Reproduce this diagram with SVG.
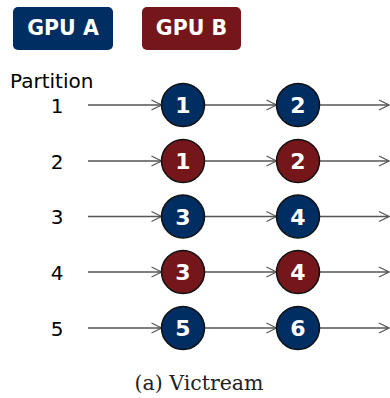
<svg xmlns="http://www.w3.org/2000/svg" width="390" height="398" viewBox="0 0 390 398">
  <defs>
    <marker id="chev" markerWidth="12" markerHeight="12" refX="10" refY="5" orient="auto" markerUnits="userSpaceOnUse" overflow="visible">
      <path d="M0,0 L10,5 L0,10" fill="none" stroke="#555" stroke-width="1.2"/>
    </marker>
  </defs>
  <style>
    .legend { font-family: "DejaVu Sans", Verdana, sans-serif; font-weight: bold; font-size: 20.5px; fill: #fff; text-anchor: middle; }
    .label { font-family: "DejaVu Sans", Verdana, sans-serif; font-size: 20px; fill: #000; }
    .row { text-anchor: middle; }
    .a { fill: #002d62; stroke: #111; stroke-width: 1.5; }
    .b { fill: #74161a; stroke: #111; stroke-width: 1.5; }
    .num { font-family: "DejaVu Sans", Verdana, sans-serif; font-weight: bold; font-size: 22px; fill: #fff; text-anchor: middle; }
    .edge { stroke: #555; stroke-width: 1.3; fill: none; marker-end: url(#chev); }
    .caption { font-family: "DejaVu Serif", "Liberation Serif", serif; font-size: 20.5px; fill: #222; text-anchor: middle; }
  </style>

  <!-- legend -->
  <g id="legend-gpu-a">
    <rect x="13" y="7" width="100" height="43" rx="5" fill="#002d62"/>
    <text class="legend" x="63" y="35">GPU A</text>
  </g>
  <g id="legend-gpu-b">
    <rect x="142" y="7" width="99" height="43" rx="5" fill="#74161a"/>
    <text class="legend" x="191.5" y="35">GPU B</text>
  </g>

  <text class="label" x="10" y="88">Partition</text>
  <g class="label row">
    <text x="57" y="113">1</text>
    <text x="57" y="168.5">2</text>
    <text x="57" y="224">3</text>
    <text x="57" y="280">4</text>
    <text x="57" y="335.5">5</text>
  </g>

  <!-- connectors -->
  <g id="connectors">
    <line class="edge" x1="88" y1="105" x2="161.5" y2="105"/>
    <line class="edge" x1="204.5" y1="105" x2="276.5" y2="105"/>
    <line class="edge" x1="319.5" y1="105" x2="389" y2="105"/>
    <line class="edge" x1="88" y1="161" x2="161.5" y2="161"/>
    <line class="edge" x1="204.5" y1="161" x2="276.5" y2="161"/>
    <line class="edge" x1="319.5" y1="161" x2="389" y2="161"/>
    <line class="edge" x1="88" y1="216.5" x2="161.5" y2="216.5"/>
    <line class="edge" x1="204.5" y1="216.5" x2="276.5" y2="216.5"/>
    <line class="edge" x1="319.5" y1="216.5" x2="389" y2="216.5"/>
    <line class="edge" x1="88" y1="272" x2="161.5" y2="272"/>
    <line class="edge" x1="204.5" y1="272" x2="276.5" y2="272"/>
    <line class="edge" x1="319.5" y1="272" x2="389" y2="272"/>
    <line class="edge" x1="88" y1="328" x2="161.5" y2="328"/>
    <line class="edge" x1="204.5" y1="328" x2="276.5" y2="328"/>
    <line class="edge" x1="319.5" y1="328" x2="389" y2="328"/>
  </g>

  <!-- partition 1 -->
  <g id="p1-n1"><circle class="a" cx="183" cy="105" r="21.5"/><text class="num" x="183" y="113">1</text></g>
  <g id="p1-n2"><circle class="a" cx="298" cy="105" r="21.5"/><text class="num" x="298" y="113">2</text></g>
  <!-- partition 2 -->
  <g id="p2-n1"><circle class="b" cx="183" cy="161" r="21.5"/><text class="num" x="183" y="169">1</text></g>
  <g id="p2-n2"><circle class="b" cx="298" cy="161" r="21.5"/><text class="num" x="298" y="169">2</text></g>
  <!-- partition 3 -->
  <g id="p3-n3"><circle class="a" cx="183" cy="216.5" r="21.5"/><text class="num" x="183" y="224.5">3</text></g>
  <g id="p3-n4"><circle class="a" cx="298" cy="216.5" r="21.5"/><text class="num" x="298" y="224.5">4</text></g>
  <!-- partition 4 -->
  <g id="p4-n3"><circle class="b" cx="183" cy="272" r="21.5"/><text class="num" x="183" y="280">3</text></g>
  <g id="p4-n4"><circle class="b" cx="298" cy="272" r="21.5"/><text class="num" x="298" y="280">4</text></g>
  <!-- partition 5 -->
  <g id="p5-n5"><circle class="a" cx="183" cy="328" r="21.5"/><text class="num" x="183" y="336">5</text></g>
  <g id="p5-n6"><circle class="a" cx="298" cy="328" r="21.5"/><text class="num" x="298" y="336">6</text></g>

  <text class="caption" x="199" y="390">(a) Victream</text>
</svg>
